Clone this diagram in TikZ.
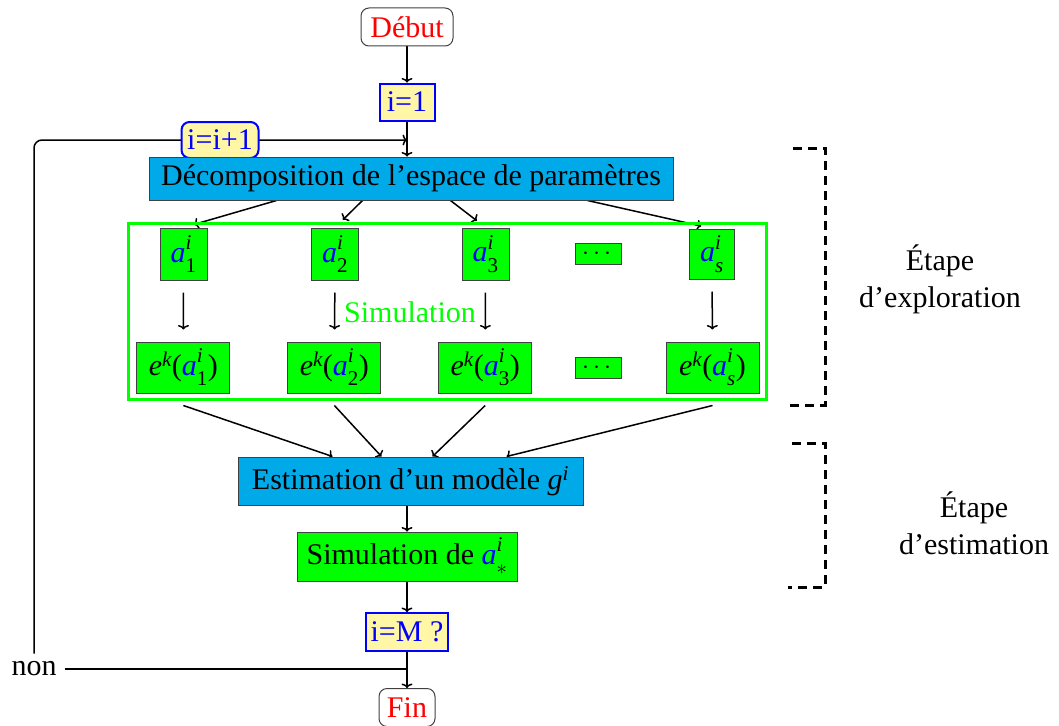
\documentclass[tikz,border=0pt]{standalone}
\usepackage{amsmath}
\usepackage{fontspec}
\setmainfont{Liberation Serif}
\usetikzlibrary{arrows.meta}
\definecolor{boxcyan}{RGB}{0,170,232}
\definecolor{boxyellow}{RGB}{255,247,166}
\newcommand{\avar}[1]{\textcolor{blue}{\textit{a}}^{\textit{i}\rule[-4pt]{0pt}{1pt}}_{\text{#1}\rule{0pt}{15pt}}}
\newcommand{\evar}[1]{\textit{e}^{\textit{k}}\text{(}\avar{#1}\text{)}}
\pgfdeclarelayer{background}
\pgfsetlayers{background,main}
\begin{document}
\begin{tikzpicture}[x=1pt,y=-1pt,
  font=\fontsize{30}{37}\selectfont,
  box/.style={draw=black!75, line width=1pt, inner sep=0pt, align=center},
  cbox/.style={box, fill=boxcyan},
  gbox/.style={box, fill=green},
  ybox/.style={draw=blue, line width=2pt, fill=boxyellow, text=blue, inner sep=0pt},
  term/.style={draw=black!75, line width=1pt, rounded corners=8pt, text=red, inner sep=0pt},
  arr/.style={-{To[length=4.5pt,width=11pt]}, line width=1.5pt},
  plain/.style={line width=1.5pt},
  dashbr/.style={line width=3pt, dash pattern=on 9pt off 6pt},
]
\useasboundingbox (0,0) rectangle (1059,725);

% main column
\node[term, minimum width=92, minimum height=38] (debut) at (407,27) {Début};
\node[ybox, minimum width=55, minimum height=37] (i1) at (407,102) {i=1};
\node[ybox, rounded corners=8pt, minimum width=77, minimum height=36] (inc) at (220,140) {i=i+1};
\node[cbox, minimum width=524, minimum height=43] (dec) at (411,178.5) {Décomposition de l’espace de paramètres};

% exploration frame
\node[draw=green, line width=3pt, minimum width=638, minimum height=176, inner sep=0pt] (frame) at (447.7,311) {};

\node[gbox, minimum width=47, minimum height=52] (a1) at (183.5,254) {$\avar{1}$};
\node[gbox, minimum width=47, minimum height=52] (a2) at (335,254) {$\avar{2}$};
\node[gbox, minimum width=47, minimum height=52] (a3) at (485.6,254) {$\avar{3}$};
\node[gbox, minimum width=46, minimum height=21] (adots) at (598.7,253.5) {$\cdots$};
\node[gbox, minimum width=45, minimum height=50] (as) at (712,254) {$\avar{\textit{s}}$};

\node[text=green] (sim) at (410,312) {Simulation};

\node[gbox, minimum width=93, minimum height=51] (e1) at (183.4,367.5) {$\evar{1}$};
\node[gbox, minimum width=93, minimum height=51] (e2) at (334.4,367.5) {$\evar{2}$};
\node[gbox, minimum width=93, minimum height=51] (e3) at (485.2,367.5) {$\evar{3}$};
\node[gbox, minimum width=46, minimum height=21] (edots) at (598.7,367.5) {$\cdots$};
\node[gbox, minimum width=93, minimum height=51] (es) at (712.5,367.5) {$\evar{\textit{s}}$};

\node[cbox, minimum width=345, minimum height=48] (est) at (410.5,481) {Estimation d’un modèle $\textit{g}^{\textit{i}}$};
\node[gbox, minimum width=220, minimum height=49] (simde) at (407,556.5) {Simulation de $\avar{$*$}$};
\node[ybox, minimum width=82, minimum height=38] (iM) at (407,632) {i=M ?};
\node[term, minimum width=56, minimum height=38] (fin) at (407,707.5) {Fin};
\node[inner sep=8pt] (non) at (34,669) {non};

% stage labels
\node[align=center] (expl) at (940,279) {Étape\\d’exploration};
\node[align=center] (estim) at (974,523) {Étape\\d’estimation};

% brackets
\draw[dashbr] (793,148) -| (825,405) -- (788,405);
\draw[dashbr] (792,443) -| (825,587) -- (788,587);

\begin{pgfonlayer}{background}
\draw[arr] (debut) -- (i1);
\draw[arr] (i1) -- (i1 |- dec.north);
\draw[arr, rounded corners=8pt] (non.north) |- (i1 |- inc.center);
\draw[plain] (non.east) -- (non.east -| iM.south);

\draw[arr, shorten >=11pt] ([xshift=128pt]dec.south west) -- (a1.north);
\draw[arr, shorten >=11pt] ([xshift=214pt]dec.south west) -- (a2.north);
\draw[arr, shorten >=11pt] ([xshift=302pt]dec.south west) -- (a3.north);
\draw[arr, shorten >=11pt] ([xshift=439pt]dec.south west) -- (as.north);

\draw[arr, shorten <=12pt, shorten >=12pt] (a1) -- (e1);
\draw[arr, shorten <=12pt, shorten >=12pt] (a2) -- (e2);
\draw[arr, shorten <=12pt, shorten >=12pt] (a3) -- (e3);
\draw[arr, shorten <=12pt, shorten >=12pt] (as) -- (es);

\draw[arr] ([yshift=-12pt]e1.south) -- ([xshift=95pt]est.north west);
\draw[arr] ([yshift=-12pt]e2.south) -- ([xshift=144pt]est.north west);
\draw[arr] ([yshift=-12pt]e3.south) -- ([xshift=195pt]est.north west);
\draw[arr] ([yshift=-12pt]es.south) -- ([xshift=269pt]est.north west);

\draw[arr] (i1 |- est.south) -- (simde);
\draw[arr] (simde) -- (iM);
\draw[arr] (iM) -- (fin);
\end{pgfonlayer}
\end{tikzpicture}
\end{document}
